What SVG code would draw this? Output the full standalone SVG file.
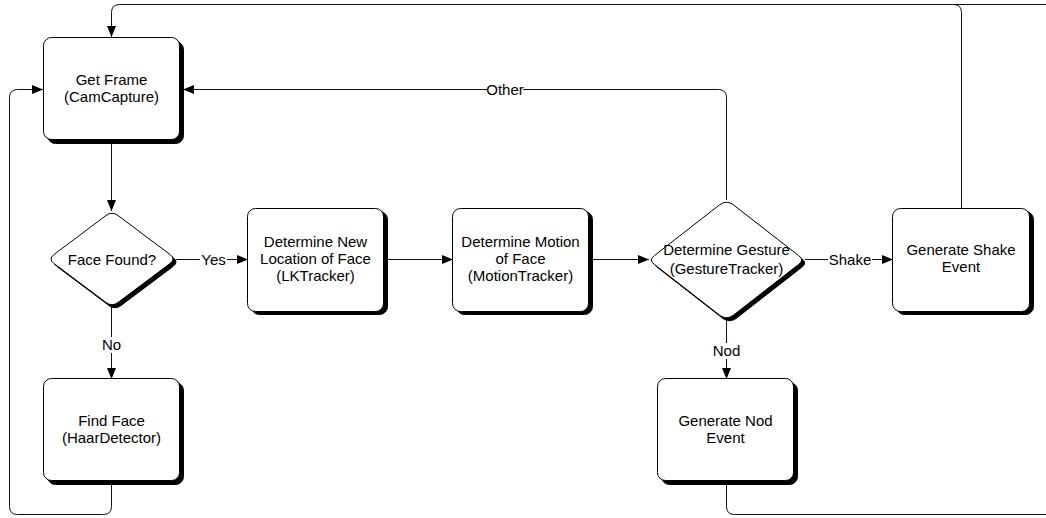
<svg xmlns="http://www.w3.org/2000/svg" width="1046" height="518" viewBox="0 0 1046 518">
<style>
  .box { fill: #fff; stroke: #000; stroke-width: 1; }
  .shadow { fill: #000; stroke: #000; stroke-width: 1; }
  .t { font-family: "Liberation Sans", Arial, sans-serif; font-size: 15px; fill: #000; text-anchor: middle; }
  .c { fill: none; stroke: #111; stroke-width: 1; }
  .lblbg { fill: #fff; stroke: none; }
</style>
<defs>
  <marker id="arr" markerUnits="userSpaceOnUse" markerWidth="12" markerHeight="12" viewBox="0 0 12 12" refX="11" refY="6" orient="auto">
    <path d="M0,1.5 L11,6 L0,10.5 Z" fill="#000"/>
  </marker>
</defs>
<rect width="1046" height="518" fill="#fff"/>

<g id="connectors">
  <path class="c" d="M1046 4.5 H119.5 Q111.5 4.5 111.5 12.5 V37" marker-end="url(#arr)"/>
  <path class="c" d="M961.5 208 V12.5 Q961.5 4.5 953.5 4.5"/>
  <path class="c" d="M111.5 140 V211" marker-end="url(#arr)"/>
  <path class="c" d="M176 259.5 H248" marker-end="url(#arr)"/>
  <path class="c" d="M384 259.5 H453" marker-end="url(#arr)"/>
  <path class="c" d="M589 259.5 H649" marker-end="url(#arr)"/>
  <path class="c" d="M805 259.5 H893" marker-end="url(#arr)"/>
  <path class="c" d="M726.5 320 V379" marker-end="url(#arr)"/>
  <path class="c" d="M726.5 200 V97.5 Q726.5 89.5 718.5 89.5 H183" marker-end="url(#arr)"/>
  <path class="c" d="M111.5 307 V379" marker-end="url(#arr)"/>
  <path class="c" d="M111.5 482 V506.5 Q111.5 514.5 103.5 514.5 H17.5 Q9.5 514.5 9.5 506.5 V97.5 Q9.5 89.5 17.5 89.5 H43" marker-end="url(#arr)"/>
  <path class="c" d="M726.5 482 V506.5 Q726.5 514.5 734.5 514.5 H1046"/>
  <rect class="lblbg" x="200" y="252" width="27" height="15"/>
  <text class="t" x="213.5" y="264.5">Yes</text>
  <rect class="lblbg" x="101" y="337" width="22" height="16"/>
  <text class="t" x="111.5" y="350">No</text>
  <rect class="lblbg" x="487" y="82" width="36" height="15"/>
  <text class="t" x="505" y="94.5">Other</text>
  <rect class="lblbg" x="828" y="252" width="44" height="15"/>
  <text class="t" x="850" y="264.5">Shake</text>
  <rect class="lblbg" x="712" y="343" width="30" height="16"/>
  <text class="t" x="726.5" y="355.5">Nod</text>
</g>

<g id="get-frame">
  <rect class="shadow" x="47.5" y="41.5" width="136" height="102" rx="8"/>
  <rect class="box" x="43.5" y="37.5" width="136" height="102" rx="8"/>
  <text class="t" x="111.5" y="85">Get Frame</text>
  <text class="t" x="111.5" y="102">(CamCapture)</text>
</g>

<g id="face-found">
  <path class="shadow" transform="translate(3,3)" d="M106 215.5 Q112 211 118 215.5 L170 254.5 Q176 259 170 263.5 L118 302.5 Q112 307 106 302.5 L54 263.5 Q48 259 54 254.5 Z"/>
  <path class="box" d="M106 215.5 Q112 211 118 215.5 L170 254.5 Q176 259 170 263.5 L118 302.5 Q112 307 106 302.5 L54 263.5 Q48 259 54 254.5 Z"/>
  <text class="t" x="112" y="264.5">Face Found?</text>
</g>

<g id="lk-tracker">
  <rect class="shadow" x="251.5" y="211.5" width="136" height="103" rx="8"/>
  <rect class="box" x="247.5" y="208.5" width="136" height="103" rx="8"/>
  <text class="t" x="315.5" y="247">Determine New</text>
  <text class="t" x="315.5" y="264">Location of Face</text>
  <text class="t" x="315.5" y="281">(LKTracker)</text>
</g>

<g id="motion-tracker">
  <rect class="shadow" x="456.5" y="211.5" width="136" height="103" rx="8"/>
  <rect class="box" x="452.5" y="208.5" width="136" height="103" rx="8"/>
  <text class="t" x="520.5" y="247">Determine Motion</text>
  <text class="t" x="520.5" y="264">of Face</text>
  <text class="t" x="520.5" y="281">(MotionTracker)</text>
</g>

<g id="gesture-tracker">
  <path class="shadow" transform="translate(3,3)" d="M720 204.5 Q726.5 200 733 204.5 L798.5 255.5 Q805 260 798.5 264.5 L733 315.5 Q726.5 320 720 315.5 L654.5 264.5 Q648 260 654.5 255.5 Z"/>
  <path class="box" d="M720 204.5 Q726.5 200 733 204.5 L798.5 255.5 Q805 260 798.5 264.5 L733 315.5 Q726.5 320 720 315.5 L654.5 264.5 Q648 260 654.5 255.5 Z"/>
  <text class="t" x="726.5" y="255">Determine Gesture</text>
  <text class="t" x="726.5" y="274">(GestureTracker)</text>
</g>

<g id="shake-event">
  <rect class="shadow" x="896.5" y="211.5" width="137" height="103" rx="8"/>
  <rect class="box" x="892.5" y="208.5" width="137" height="103" rx="8"/>
  <text class="t" x="961" y="255">Generate Shake</text>
  <text class="t" x="961" y="272">Event</text>
</g>

<g id="nod-event">
  <rect class="shadow" x="661.5" y="382.5" width="136" height="102" rx="8"/>
  <rect class="box" x="657.5" y="378.5" width="136" height="102" rx="8"/>
  <text class="t" x="725.5" y="426">Generate Nod</text>
  <text class="t" x="725.5" y="443">Event</text>
</g>

<g id="find-face">
  <rect class="shadow" x="47.5" y="382.5" width="136" height="102" rx="8"/>
  <rect class="box" x="43.5" y="378.5" width="136" height="102" rx="8"/>
  <text class="t" x="111.5" y="426">Find Face</text>
  <text class="t" x="111.5" y="443">(HaarDetector)</text>
</g>
</svg>
